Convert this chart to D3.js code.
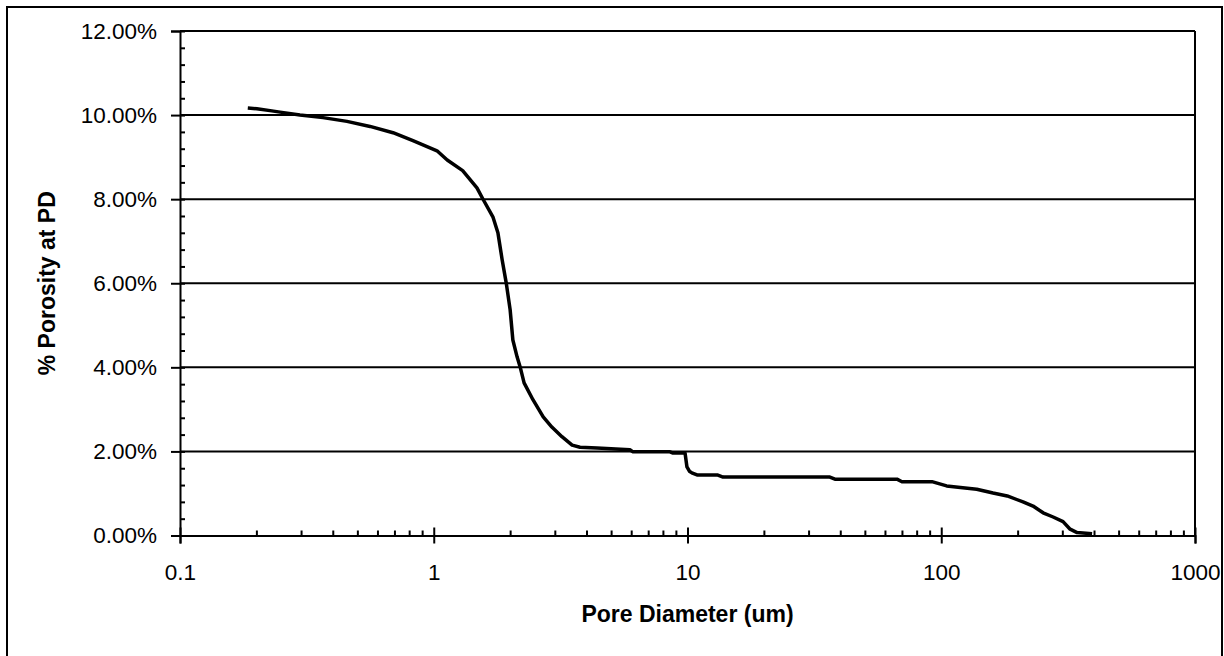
<!doctype html>
<html>
<head>
<meta charset="utf-8">
<script src="https://d3js.org/d3.v7.min.js"></script>
<style>
  body { margin: 0; background: #fff; }
  text { font-family: Arial, "Liberation Sans", sans-serif; fill: #000; }
</style>
</head>
<body>
<svg width="1224" height="656" id="chart"></svg>
<script>
// pore diameter (um) and porosity
var diameter = [0.185, 0.201, 0.230, 0.248, 0.297, 0.366, 0.455, 0.561, 0.691, 0.828,
                1.03, 1.13, 1.30, 1.48, 1.56, 1.71, 1.79, 1.86, 1.93, 2.00,
                2.05, 2.13, 2.19, 2.27, 2.46, 2.70, 2.92, 3.20, 3.51, 3.77,
                4.40, 5.93, 6.10, 8.53, 8.77, 9.78, 9.95, 10.2, 10.4, 10.9,
                13.1, 13.8, 36.4, 38.1, 66.9, 70.0, 91.9, 105, 119, 138,
                160, 182, 210, 230, 252, 276, 302, 322, 343, 393];
var porosity = [0.1017, 0.1015, 0.1010, 0.1007, 0.1000, 0.0994, 0.0985, 0.0973, 0.0958, 0.0939,
                0.0915, 0.0893, 0.0868, 0.0827, 0.0801, 0.0758, 0.0720, 0.0656, 0.0601, 0.0537,
                0.0465, 0.0425, 0.0401, 0.0363, 0.0323, 0.0282, 0.0258, 0.0235, 0.0215, 0.0210,
                0.0208, 0.0204, 0.0199, 0.0199, 0.0196, 0.0196, 0.0163, 0.0152, 0.0149, 0.0144,
                0.0144, 0.0139, 0.0139, 0.0134, 0.0134, 0.0128, 0.0128, 0.0118, 0.0114, 0.0110,
                0.0101, 0.0094, 0.0080, 0.0070, 0.0054, 0.0044, 0.0033, 0.0015, 0.0007, 0.0004];
var xTicks = [0.1, 1, 10, 100, 1000];
var yTicks = [0, 0.02, 0.04, 0.06, 0.08, 0.10, 0.12];

var svg = d3.select("#chart");
var pLeft = 180, pRight = 1195, pTop = 31, pBottom = 535.5;

var x = d3.scaleLog().domain([0.1, 1000]).range([pLeft, pRight]);
var y = d3.scaleLinear().domain([0, 0.12]).range([pBottom, pTop]);

// outer chart border
svg.append("rect")
   .attr("x", 7).attr("y", 7)
   .attr("width", 1215).attr("height", 700)
   .attr("fill", "none").attr("stroke", "#000").attr("stroke-width", 2);

// gridlines
svg.append("g")
   .selectAll("line")
   .data(yTicks.slice(1))
   .join("line")
   .attr("x1", pLeft).attr("x2", pRight)
   .attr("y1", function(d) { return y(d); })
   .attr("y2", function(d) { return y(d); })
   .attr("stroke", "#000").attr("stroke-width", 2);

// plot area right edge
svg.append("line")
   .attr("x1", pRight).attr("x2", pRight)
   .attr("y1", pTop).attr("y2", pBottom)
   .attr("stroke", "#000").attr("stroke-width", 2);

// y axis
var yMinor = d3.range(0, 0.1201, 0.004);
svg.append("g")
   .attr("transform", "translate(" + pLeft + ",0)")
   .call(d3.axisRight(y).tickValues(yMinor).tickSize(5).tickFormat(""))
   .call(function(g) { g.select(".domain").remove(); })
   .selectAll("line").attr("stroke-width", 2);
var yAxis = svg.append("g")
   .attr("transform", "translate(" + pLeft + ",0)")
   .call(d3.axisLeft(y).tickValues(yTicks).tickSize(9).tickPadding(14).tickFormat(d3.format(".2%")));
yAxis.select(".domain").attr("stroke-width", 2);
yAxis.selectAll("line").attr("stroke-width", 2);
yAxis.selectAll("text").attr("font-size", "22.5px").attr("font-family", "Arial, 'Liberation Sans', sans-serif");

// x axis
var xMinor = [];
[0.1, 1, 10, 100].forEach(function(dec) {
    for (var k = 2; k <= 9; k++) xMinor.push(dec * k);
});
svg.append("g")
   .attr("transform", "translate(0," + pBottom + ")")
   .call(d3.axisTop(x).tickValues(xMinor).tickSize(5).tickFormat(""))
   .call(function(g) { g.select(".domain").remove(); })
   .selectAll("line").attr("stroke-width", 2);
svg.append("g")
   .attr("transform", "translate(0," + pBottom + ")")
   .call(d3.axisTop(x).tickValues(xTicks).tickSize(8).tickFormat(""))
   .call(function(g) { g.select(".domain").remove(); })
   .selectAll("line").attr("stroke-width", 2);
var xAxis = svg.append("g")
   .attr("transform", "translate(0," + pBottom + ")")
   .call(d3.axisBottom(x).tickValues(xTicks).tickSize(8).tickPadding(21).tickFormat(d3.format("")));
xAxis.select(".domain").attr("stroke-width", 2);
xAxis.selectAll("line").attr("stroke-width", 2);
xAxis.selectAll("text").attr("font-size", "22.5px").attr("font-family", "Arial, 'Liberation Sans', sans-serif");

// curve
var pts = diameter.map(function(d, i) { return [d, porosity[i]]; });
svg.append("path")
   .datum(pts)
   .attr("fill", "none")
   .attr("stroke", "#000")
   .attr("stroke-width", 3.5)
   .attr("stroke-linejoin", "round")
   .attr("d", d3.line()
       .x(function(d) { return x(d[0]); })
       .y(function(d) { return y(d[1]); }));

// axis titles
svg.append("text")
   .attr("x", (pLeft + pRight) / 2)
   .attr("y", 622)
   .attr("text-anchor", "middle")
   .attr("font-size", "23px")
   .attr("font-weight", "bold")
   .text("Pore Diameter (um)");

svg.append("text")
   .attr("transform", "translate(55," + (pTop + pBottom) / 2 + ") rotate(-90)")
   .attr("text-anchor", "middle")
   .attr("font-size", "23px")
   .attr("font-weight", "bold")
   .text("% Porosity at PD");
</script>
</body>
</html>
